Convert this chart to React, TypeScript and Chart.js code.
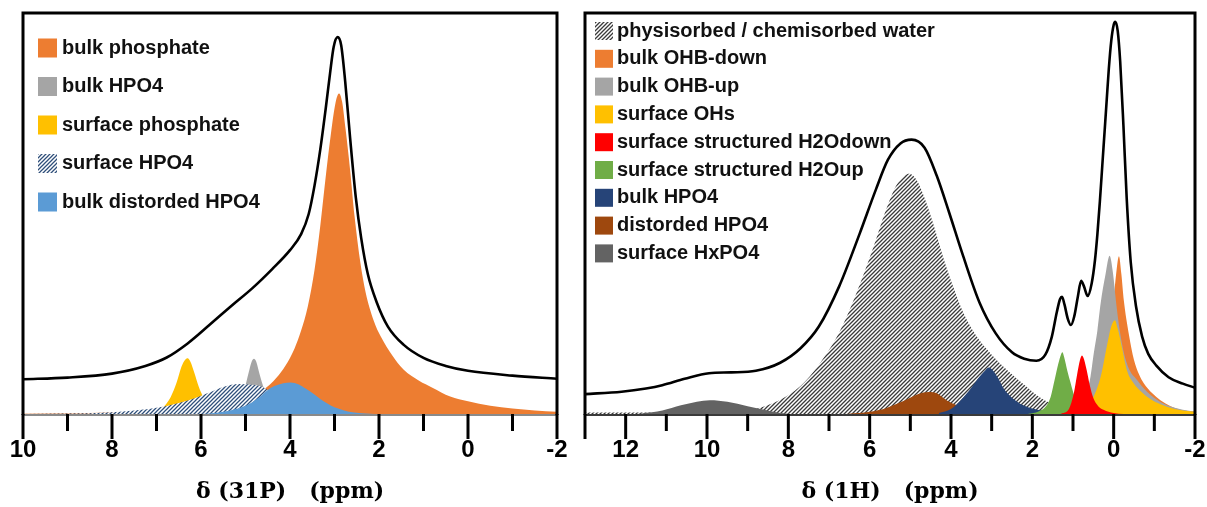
import React, { useEffect, useRef } from 'react';
import { Chart, registerables } from 'chart.js';

Chart.register(...registerables);

type Pt = [number, number];

// ---------------- 31P panel (ppm, intensity in % of frame height) ----------------
const p31MajorTicks = [10, 8, 6, 4, 2, 0, -2];
const p31Title = 'δ (31P)   (ppm)';
const p31Legend = ['bulk phosphate', 'bulk HPO4', 'surface phosphate', 'surface HPO4', 'bulk distorded HPO4'];

const p31Envelope: Pt[] = [
  [10, 8.9], [9, 9.3], [8, 10.3], [7.25, 12.2], [6.77, 14.3], [6.3, 17.8], [5.8, 22.5], [5.3, 27.3],
  [4.85, 31.5], [4.4, 36.3], [4.0, 41.0], [3.75, 45], [3.58, 50], [3.45, 57], [3.32, 66], [3.2, 76],
  [3.1, 85], [3.02, 91.5], [2.93, 94.0], [2.85, 92], [2.76, 83], [2.65, 69], [2.52, 54], [2.4, 44],
  [2.25, 35], [2.05, 28], [1.8, 22], [1.45, 17.5], [1.0, 14.2], [0.5, 12.2], [0, 11.0], [-1, 9.8], [-2, 9.0],
];
const p31BulkPhosphate: Pt[] = [
  [10, 0.3], [8, 0.6], [6.5, 1.2], [5.5, 2.5], [5.0, 3.9], [4.6, 6.2], [4.3, 9.3], [4.1, 12.3], [3.9, 16.5],
  [3.75, 21], [3.6, 27], [3.45, 36], [3.32, 47], [3.2, 59], [3.08, 70], [2.98, 77.5], [2.9, 80], [2.83, 78],
  [2.75, 71], [2.65, 61], [2.55, 49.5], [2.42, 38], [2.3, 30.5], [2.12, 23.5], [1.96, 19.5], [1.7, 14.8],
  [1.45, 11.3], [1.1, 8.5], [0.8, 6.8], [0.4, 4.6], [0, 3.4], [-0.5, 2.3], [-1, 1.6], [-1.5, 1.1], [-2, 0.8],
];
const p31BulkHPO4: Pt[] = [
  [5.4, 0.5], [5.15, 2.5], [5.02, 6.5], [4.93, 10.5], [4.86, 13.3], [4.81, 14], [4.76, 13.3], [4.68, 10],
  [4.6, 7], [4.5, 4], [4.35, 1.5], [4.1, 0.3],
];
const p31SurfacePhosphate: Pt[] = [
  [7.3, 0.2], [7.0, 0.8], [6.85, 1.9], [6.68, 4.5], [6.55, 8], [6.44, 12], [6.36, 13.7], [6.3, 14.1],
  [6.24, 13.3], [6.15, 10.5], [6.05, 7], [5.95, 4.5], [5.82, 2.5], [5.6, 0.9], [5.3, 0.2],
];
const p31SurfaceHPO4: Pt[] = [
  [10, 0.25], [9, 0.35], [8, 0.7], [7.5, 1.1], [6.93, 1.9], [6.3, 3.6], [5.81, 5.6], [5.49, 7.0], [5.15, 7.7],
  [4.85, 7.5], [4.6, 6.9], [4.37, 5.2], [4.04, 3.1], [3.64, 1.5], [3.1, 0.5], [2.5, 0.15], [2, 0],
];
const p31BulkDistordedHPO4: Pt[] = [
  [6.5, 0.1], [5.8, 0.4], [5.4, 1.0], [5.09, 1.9], [4.85, 3.2], [4.69, 4.4], [4.53, 6.0], [4.35, 7.2],
  [4.15, 7.9], [3.99, 8.1], [3.8, 7.6], [3.64, 6.5], [3.45, 5.1], [3.32, 4.0], [3.15, 2.8], [3.0, 1.9],
  [2.8, 1.2], [2.6, 0.7], [2.2, 0.3], [1.8, 0.15], [1.0, 0],
];

// ---------------- 1H panel ----------------
const h1MajorTicks = [12, 10, 8, 6, 4, 2, 0, -2];
const h1Title = 'δ (1H)   (ppm)';
const h1Legend = [
  'physisorbed / chemisorbed water', 'bulk OHB-down', 'bulk OHB-up', 'surface OHs',
  'surface structured H2Odown', 'surface structured H2Oup', 'bulk HPO4', 'distorded HPO4', 'surface HxPO4',
];

const h1Envelope: Pt[] = [
  [13, 5.2], [12.1, 5.8], [11.5, 6.6], [11.1, 7.4], [10.55, 9.0], [9.95, 10.4], [9.4, 10.6], [8.8, 11.0],
  [8.2, 13.0], [7.7, 16.6], [7.25, 22], [6.75, 32], [6.25, 45], [5.85, 56], [5.55, 63.5], [5.25, 67.5],
  [4.97, 68.5], [4.65, 66.5], [4.35, 59.5], [4.05, 50.5], [3.7, 39.5], [3.3, 28], [2.9, 20.3], [2.5, 15.6],
  [2.2, 14.0], [1.9, 13.5], [1.68, 15.0], [1.52, 19.5], [1.4, 25.5], [1.32, 28.8], [1.27, 29.4], [1.21, 27.5],
  [1.13, 24], [1.05, 22.4], [0.97, 24.5], [0.88, 29.5], [0.8, 33.4], [0.73, 32.0], [0.64, 29.6], [0.54, 32.8],
  [0.46, 38.5], [0.4, 45], [0.34, 53], [0.28, 62], [0.22, 71], [0.17, 78.5], [0.12, 86], [0.06, 93], [0.0, 97],
  [-0.04, 97.8], [-0.1, 95.5], [-0.16, 88], [-0.24, 72], [-0.32, 54], [-0.42, 38], [-0.55, 27], [-0.7, 19.5],
  [-0.85, 15.2], [-1.05, 12.3], [-1.35, 9.4], [-1.7, 7.8], [-2, 6.8],
];
const h1Water: Pt[] = [
  [13, 0.6], [11, 0.6], [10, 0.6], [9.2, 0.8], [8.7, 1.8], [8.2, 3.8], [7.7, 7.2], [7.25, 12.5], [6.75, 20.5],
  [6.3, 31], [5.9, 42], [5.6, 51], [5.35, 57], [5.15, 59.5], [5.02, 60], [4.85, 58.5], [4.65, 54], [4.45, 48],
  [4.2, 39.5], [3.95, 32], [3.7, 25.5], [3.4, 20], [3.0, 15], [2.6, 11], [2.2, 7.5], [1.9, 5], [1.5, 2.7],
  [1.0, 1.3], [0.5, 0.8], [-2, 0.8],
];
const h1OHBDown: Pt[] = [
  [0.6, 0.5], [0.4, 2], [0.25, 6], [0.12, 14], [0.02, 26], [-0.06, 35], [-0.13, 39.5], [-0.19, 35],
  [-0.25, 28.5], [-0.37, 20.3], [-0.5, 13.7], [-0.62, 10.2], [-0.74, 7.9], [-0.95, 5.4], [-1.15, 3.7],
  [-1.4, 2.2], [-1.64, 1.3], [-2, 0.8],
];
const h1OHBUp: Pt[] = [
  [1.2, 0.5], [0.8, 2], [0.57, 9.5], [0.49, 15.3], [0.4, 21], [0.32, 27.8], [0.2, 35], [0.1, 39.6],
  [0.02, 35.5], [-0.06, 28], [-0.15, 21], [-0.25, 15.5], [-0.4, 11], [-0.55, 9], [-0.75, 6.5], [-1.0, 4.2],
  [-1.3, 2.5], [-1.7, 1.3], [-2, 0.8],
];
const h1SurfaceOH: Pt[] = [
  [0.9, 0.5], [0.65, 2.2], [0.49, 4.6], [0.32, 9.5], [0.17, 17], [0.06, 22], [-0.03, 23.6], [-0.1, 21.5],
  [-0.2, 17], [-0.33, 11], [-0.5, 7.8], [-0.66, 6], [-0.9, 4], [-1.15, 2.7], [-1.5, 1.5], [-2, 0.8],
];
const h1H2ODown: Pt[] = [
  [1.3, 0.3], [1.1, 1.5], [0.98, 5.4], [0.9, 10], [0.83, 13.6], [0.78, 14.8], [0.74, 14.2], [0.66, 11],
  [0.59, 7.5], [0.5, 4.2], [0.38, 2.2], [0.25, 1.3], [0, 0.5], [-0.5, 0.2], [-1, 0],
];
const h1H2OUp: Pt[] = [
  [2.1, 0.3], [1.85, 0.9], [1.67, 2.1], [1.55, 4.5], [1.45, 8.8], [1.36, 12.8], [1.29, 15.2], [1.26, 15.6],
  [1.22, 14.5], [1.14, 11], [1.06, 8.0], [0.97, 4.8], [0.85, 2.4], [0.7, 1.2], [0.5, 0.5], [0, 0.1],
];
const h1BulkHPO4: Pt[] = [
  [4.3, 0.5], [4.0, 1.5], [3.75, 3.8], [3.5, 6.8], [3.3, 9.5], [3.15, 11.2], [3.07, 11.8], [2.98, 11.2],
  [2.85, 9.3], [2.7, 6.5], [2.5, 4.3], [2.3, 2.8], [2.0, 1.6], [1.5, 0.8], [1.0, 0.4], [0.3, 0.15], [-0.5, 0],
];
const h1DistordedHPO4: Pt[] = [
  [7, 0], [6.5, 0.3], [6.0, 0.8], [5.6, 1.7], [5.3, 2.9], [5.04, 4.1], [4.8, 5.2], [4.55, 5.7], [4.35, 5.4],
  [4.1, 3.6], [3.85, 2.4], [3.6, 1.5], [3.2, 0.8], [2.8, 0.45], [2.2, 0.3], [1.5, 0.25], [0, 0.25], [-2, 0.25],
];
const h1SurfaceHxPO4: Pt[] = [
  [12, 0], [11.6, 0.4], [11.1, 1.1], [10.64, 2.4], [10.25, 3.3], [9.93, 3.7], [9.5, 3.3], [9.0, 2.2],
  [8.6, 1.3], [8.2, 0.5], [7.7, 0.1], [7, 0],
];

// ---------------- helpers ----------------
const toXY = (pts: Pt[]) => pts.map(([x, y]) => ({ x, y }));

function makeHatch(stripe: string, size: number, width: number) {
  const c = document.createElement('canvas');
  c.width = size;
  c.height = size;
  const g = c.getContext('2d')!;
  g.fillStyle = '#ffffff';
  g.fillRect(0, 0, size, size);
  g.strokeStyle = stripe;
  g.lineWidth = width;
  g.beginPath();
  g.moveTo(0, size); g.lineTo(size, 0);
  g.moveTo(-size / 2, size / 2); g.lineTo(size / 2, -size / 2);
  g.moveTo(size / 2, size * 1.5); g.lineTo(size * 1.5, size / 2);
  g.stroke();
  return g.createPattern(c, 'repeat')!;
}

const panelPlugin = {
  id: 'panel',
  afterDatasetsDraw(chart: any, _args: any, o: any) {
    const { ctx, chartArea: a } = chart;
    const xs = chart.scales.x;
    ctx.save();
    // baseline
    ctx.strokeStyle = o.axisColor;
    ctx.lineWidth = 2;
    ctx.beginPath();
    ctx.moveTo(a.left, a.bottom);
    ctx.lineTo(a.right, a.bottom);
    ctx.stroke();
    // frame
    ctx.strokeStyle = '#000';
    ctx.lineWidth = 3;
    ctx.lineJoin = 'miter';
    ctx.beginPath();
    ctx.moveTo(a.left, a.bottom);
    ctx.lineTo(a.left, a.top);
    ctx.lineTo(a.right, a.top);
    ctx.lineTo(a.right, a.bottom);
    ctx.stroke();
    // ticks
    ctx.lineCap = 'butt';
    for (let v = Math.ceil(xs.min); v <= Math.floor(xs.max); v++) {
      const px = xs.getPixelForValue(v);
      const major = v % 2 === 0 || v === xs.min || v === xs.max;
      ctx.beginPath();
      ctx.moveTo(px, a.bottom - 1);
      ctx.lineTo(px, a.bottom + (major ? o.major : o.minor));
      ctx.stroke();
    }
    // legend
    let idx = 0;
    chart.data.datasets.forEach((ds: any) => {
      if (!ds.label) return;
      const cy = a.top + o.legY + idx * o.legStep;
      const bx = a.left + o.legX;
      ctx.fillStyle = ds.backgroundColor;
      ctx.fillRect(bx, cy - o.box / 2, o.box, o.box);
      ctx.fillStyle = '#111';
      ctx.font = o.legFont;
      ctx.textBaseline = 'middle';
      ctx.textAlign = 'left';
      ctx.fillText(ds.label, bx + o.box + o.legGap, cy);
      idx++;
    });
    ctx.restore();
  },
};

const tickFont = { family: "'Liberation Sans', Arial, sans-serif", weight: 'bold' as const, size: 24 };
const titleFont = { family: "'DejaVu Serif', serif", weight: 'bold' as const, size: 22 };

function area(label: string, pts: Pt[], color: any, order: number) {
  return {
    label,
    data: toXY(pts),
    backgroundColor: color,
    borderColor: 'rgba(0,0,0,0)',
    borderWidth: 0,
    fill: 'origin',
    order,
    pointRadius: 0,
  };
}

function envelope(pts: Pt[]) {
  return {
    label: '',
    data: toXY(pts),
    borderColor: '#000',
    backgroundColor: 'rgba(0,0,0,0)',
    borderWidth: 2.6,
    fill: false,
    order: 0,
    pointRadius: 0,
  };
}

function baseOptions(xmax: number, majors: number[], title: string, pad: any, legend: any) {
  return {
    responsive: false,
    animation: false,
    events: [],
    layout: { padding: pad },
    elements: { point: { radius: 0 }, line: { cubicInterpolationMode: 'monotone' } },
    plugins: {
      legend: { display: false },
      tooltip: { enabled: false },
      panel: legend,
    },
    scales: {
      x: {
        type: 'linear',
        min: -2,
        max: xmax,
        reverse: true,
        afterFit: (s: any) => { s.height = 92; },
        border: { display: false },
        grid: { display: true, drawOnChartArea: false, drawTicks: true, tickLength: 24, color: 'rgba(0,0,0,0)' },
        ticks: {
          stepSize: 1,
          autoSkip: false,
          maxRotation: 0,
          padding: -3,
          color: '#000',
          font: tickFont,
          callback: (v: any) => (majors.includes(Number(v)) ? String(v) : ''),
        },
        title: { display: true, text: title, color: '#000', font: titleFont, padding: { top: 0, bottom: 2 } },
      },
      y: { display: false, min: 0, max: 100 },
    },
  };
}

function ChartCanvas({ make, width, height, left }: { make: () => any; width: number; height: number; left: number }) {
  const ref = useRef<HTMLCanvasElement>(null);
  useEffect(() => {
    const chart = new Chart(ref.current!, make());
    return () => chart.destroy();
  }, []);
  return (
    <canvas
      ref={ref}
      width={width}
      height={height}
      style={{ position: 'absolute', left, top: 0, width, height }}
    />
  );
}

function makeP31() {
  const hatch = makeHatch('#2F4F7A', 4, 1.25);
  return {
    type: 'line',
    data: {
      datasets: [
        area(p31Legend[0], p31BulkPhosphate, '#ED7D31', 5),
        area(p31Legend[1], p31BulkHPO4, '#A5A5A5', 4),
        area(p31Legend[2], p31SurfacePhosphate, '#FFC000', 3),
        area(p31Legend[3], p31SurfaceHPO4, hatch, 2),
        area(p31Legend[4], p31BulkDistordedHPO4, '#5B9BD5', 1),
        envelope(p31Envelope),
      ],
    },
    options: baseOptions(10, p31MajorTicks, p31Title, { left: 23, right: 13, top: 13, bottom: 0 }, {
      axisColor: '#8a8a8a', major: 24, minor: 16,
      legX: 15, legY: 35, legStep: 38.5, box: 19, legGap: 5,
      legFont: "bold 20px 'Liberation Sans', Arial, sans-serif",
    }),
    plugins: [panelPlugin],
  };
}

function makeH1() {
  const hatch = makeHatch('#3a3a3a', 4, 1.3);
  return {
    type: 'line',
    data: {
      datasets: [
        area(h1Legend[0], h1Water, hatch, 9),
        area(h1Legend[1], h1OHBDown, '#ED7D31', 5),
        area(h1Legend[2], h1OHBUp, '#A5A5A5', 4),
        area(h1Legend[3], h1SurfaceOH, '#FFC000', 3),
        area(h1Legend[4], h1H2ODown, '#FF0000', 1),
        area(h1Legend[5], h1H2OUp, '#70AD47', 2),
        area(h1Legend[6], h1BulkHPO4, '#264478', 6),
        area(h1Legend[7], h1DistordedHPO4, '#9E480E', 7),
        area(h1Legend[8], h1SurfaceHxPO4, '#636363', 8),
        envelope(h1Envelope),
      ],
    },
    options: baseOptions(13, h1MajorTicks, h1Title, { left: 15, right: 12, top: 13, bottom: 0 }, {
      axisColor: '#3a3a3a', major: 24, minor: 16,
      legX: 10, legY: 18, legStep: 27.8, box: 18, legGap: 4,
      legFont: "bold 20px 'Liberation Sans', Arial, sans-serif",
    }),
    plugins: [panelPlugin],
  };
}

export default function App() {
  useEffect(() => {
    document.body.style.margin = '0';
  }, []);
  return (
    <div style={{ position: 'absolute', left: 0, top: 0, width: 1207, height: 507, background: '#fff' }}>
      <ChartCanvas make={makeP31} width={570} height={507} left={0} />
      <ChartCanvas make={makeH1} width={637} height={507} left={570} />
    </div>
  );
}
